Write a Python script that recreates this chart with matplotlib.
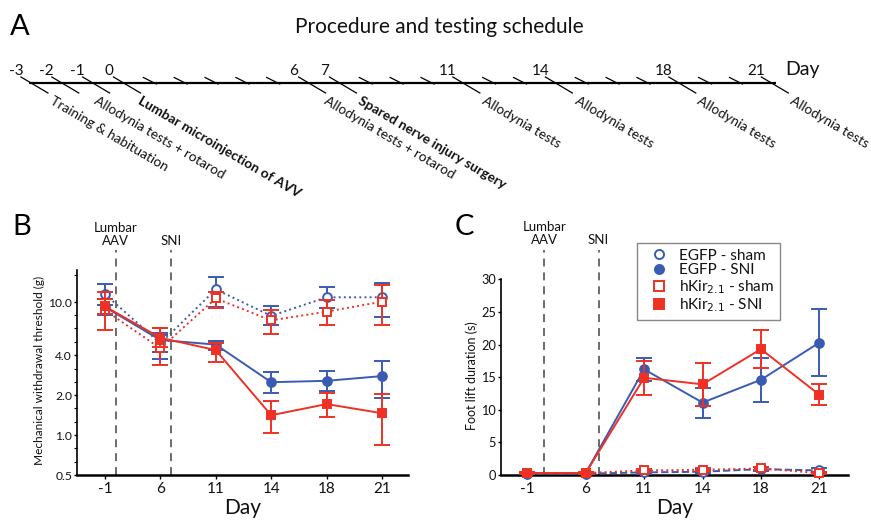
import matplotlib
matplotlib.use('Agg')
import matplotlib.pyplot as plt
import matplotlib.transforms as mtransforms
from matplotlib.lines import Line2D
import numpy as np

plt.rcParams['font.family'] = ['Lato', 'DejaVu Sans']

# ---------------- data ----------------
day_labels = ['-1', '6', '11', '14', '18', '21']

# Panel B: mechanical withdrawal threshold (g): mean, lower and upper error bounds
egfp_sham_thr = [11.5, 4.9, 12.5, 7.9, 10.9, 10.9]
egfp_sham_thr_lo = [9.6, 4.2, 9.2, 6.8, 9.0, 7.7]
egfp_sham_thr_hi = [13.8, 5.7, 15.5, 9.3, 13.1, 14.0]

egfp_sni_thr = [9.2, 5.2, 4.8, 2.5, 2.56, 2.78]
egfp_sni_thr_lo = [8.0, 3.75, 4.4, 2.06, 2.15, 1.91]
egfp_sni_thr_hi = [10.6, 5.9, 5.1, 2.97, 3.05, 3.62]

hkir_sham_thr = [8.7, 4.5, 10.7, 7.3, 8.5, 10.1]
hkir_sham_thr_lo = [6.2, 3.35, 9.1, 5.8, 6.8, 6.7]
hkir_sham_thr_hi = [12.0, 6.4, 12.0, 8.7, 10.4, 13.4]

hkir_sni_thr = [9.3, 5.4, 4.36, 1.41, 1.71, 1.46]
hkir_sni_thr_lo = [8.1, 4.6, 3.56, 1.03, 1.36, 0.84]
hkir_sni_thr_hi = [10.5, 6.45, 4.95, 1.8, 2.08, 2.04]

# Panel C: foot lift duration (s): mean and error
egfp_sham_lift = [0.2, 0.2, 0.4, 0.5, 0.9, 0.7]
egfp_sham_lift_err = [0.1, 0.1, 0.2, 0.2, 0.3, 0.3]
egfp_sni_lift = [0.3, 0.3, 16.2, 11.1, 14.6, 20.3]
egfp_sni_lift_err = [0.1, 0.1, 1.8, 2.3, 3.4, 5.2]
hkir_sham_lift = [0.3, 0.3, 0.7, 0.8, 1.0, 0.3]
hkir_sham_lift_err = [0.1, 0.1, 0.2, 0.2, 0.3, 0.2]
hkir_sni_lift = [0.3, 0.3, 14.9, 13.9, 19.3, 12.3]
hkir_sni_lift_err = [0.1, 0.1, 2.6, 3.3, 2.9, 1.6]

legend_labels = ['EGFP - sham', 'EGFP - SNI', r'hKir$_{2.1}$ - sham', r'hKir$_{2.1}$ - SNI']

# Panel A: schedule
schedule_days = list(range(-3, 22))
labelled_days = [-3, -2, -1, 0, 6, 7, 11, 14, 18, 21]
event_days = [-3, -1, 0, 6, 7, 11, 14, 18, 21]
event_texts = ['Training & habituation', 'Allodynia tests + rotarod',
               'Lumbar microinjection of AVV', 'Allodynia tests + rotarod',
               'Spared nerve injury surgery', 'Allodynia tests', 'Allodynia tests',
               'Allodynia tests', 'Allodynia tests']
event_bold = [False, False, True, False, True, False, False, False, False]
event_dx_px = [23, 5, 19, 19, 23, 23, 24, 22, 23]

# Event markers (position on categorical axis)
b_event_pos = [0.19, 1.19]
c_event_pos = [0.29, 1.22]
event_names = ['Lumbar\nAAV', 'SNI']

BLUE = '#3a5bb3'
RED = '#ee3124'
GREY = '#444444'
TXT = '#111111'

W, H = 871, 521
fig = plt.figure(figsize=(W / 100, H / 100), dpi=100)

# ---------------- Panel A ----------------
PX0, PXD = 123.5, 30.85
axA = fig.add_axes([0, 0, 1, 1])
axA.set_xlim(-PX0 / PXD, (W - PX0) / PXD)
axA.set_ylim(H, 0)
axA.axis('off')


def dpx(p):
    return p / PXD


LINE_Y = 83
axA.plot([-3 - dpx(2), 21 + dpx(5)], [LINE_Y, LINE_Y], color='black', lw=1.6,
         solid_capstyle='butt')
for d in schedule_days:
    if d in labelled_days:
        axA.plot([d - dpx(10), d + dpx(17)], [LINE_Y - 6, LINE_Y + 10], color='black', lw=0.9)
        axA.text(d - dpx(15), 75, str(d), ha='center', va='baseline', fontsize=11, color=TXT)
    else:
        axA.plot([d - dpx(11), d + dpx(2)], [LINE_Y - 5.5, LINE_Y + 1], color='black', lw=0.9)
axA.text(21 + dpx(31.5), 75, 'Day', ha='center', va='baseline', fontsize=14, color=TXT)

for d, t, b, dx in zip(event_days, event_texts, event_bold, event_dx_px):
    axA.text(d + dpx(dx), LINE_Y + 12, t, rotation=-30.5, rotation_mode='anchor',
             ha='left', va='top', fontsize=9.9, color=TXT,
             fontweight='bold' if b else 'normal')

fig.text(439 / W, 1 - 33 / H, 'Procedure and testing schedule', ha='center',
         va='baseline', fontsize=15, color=TXT)
fig.text(10 / W, 1 - 35 / H, 'A', ha='left', va='baseline', fontsize=21)
fig.text(12 / W, 1 - 235 / H, 'B', ha='left', va='baseline', fontsize=21)
fig.text(455 / W, 1 - 235 / H, 'C', ha='left', va='baseline', fontsize=21)


def style_axes(ax):
    for s in ['top', 'right']:
        ax.spines[s].set_visible(False)
    ax.spines['left'].set_linewidth(1.2)
    ax.spines['bottom'].set_linewidth(1.8)
    ax.tick_params(axis='x', direction='out', length=3, width=1.0, labelsize=11, pad=2,
                   labelcolor=TXT)
    ax.tick_params(axis='y', direction='out', length=2.5, width=1.0, pad=1, labelcolor=TXT)
    ax.tick_params(axis='y', which='minor', direction='out', length=2, width=0.8)


def draw_events(ax, positions, top, label_y):
    trans = mtransforms.blended_transform_factory(ax.transData, ax.transAxes)
    for p, name in zip(positions, event_names):
        ax.plot([p, p], [0, top], transform=trans, color=GREY, lw=1.1,
                linestyle=(0, (5.2, 3.9)), clip_on=False, zorder=1)
        ax.text(p, label_y, name, transform=trans, ha='center', va='bottom',
                fontsize=9.5, linespacing=1.05, color=TXT)


x = np.arange(len(day_labels))

# ---------------- Panel B ----------------
axB = fig.add_axes([77 / W, (H - 475) / H, 331 / W, 205 / H])
style_axes(axB)
axB.set_yscale('log')
axB.set_ylim(0.5, 17.5)
axB.set_xlim(-0.505, 5.47)
axB.set_yticks([0.5, 1.0, 2.0, 4.0, 10.0])
axB.set_yticklabels(['0.5', '1.0', '2.0', '4.0', '10.0'], fontsize=8.7)
axB.set_yticks([0.63, 0.8, 1.26, 1.59, 2.52, 3.17, 5.04, 6.35, 8.0, 16.0], minor=True)
axB.yaxis.set_minor_formatter(matplotlib.ticker.NullFormatter())
axB.set_xticks(x)
axB.set_xticklabels(day_labels)

b_series = [
    (egfp_sham_thr, egfp_sham_thr_lo, egfp_sham_thr_hi, BLUE, 'o', 'white', ':'),
    (egfp_sni_thr, egfp_sni_thr_lo, egfp_sni_thr_hi, BLUE, 'o', BLUE, '-'),
    (hkir_sham_thr, hkir_sham_thr_lo, hkir_sham_thr_hi, RED, 's', 'white', ':'),
    (hkir_sni_thr, hkir_sni_thr_lo, hkir_sni_thr_hi, RED, 's', RED, '-'),
]
for i, (m, lo, hi, c, mk, fc, ls) in enumerate(b_series):
    m = np.array(m)
    yerr = [m - np.array(lo), np.array(hi) - m]
    axB.errorbar(x, m, yerr=yerr, color=c, ecolor=c, linestyle=ls, lw=1.4,
                 marker=mk, markersize=6.3, mfc=fc, mec=c, mew=1.4,
                 elinewidth=1.4, capsize=6, capthick=1.4, zorder=3 + i)

draw_events(axB, b_event_pos, (475 - 250) / 205, (475 - 247) / 205)
axB.set_xlabel('Day', fontsize=15, color=TXT)
axB.xaxis.label.set_verticalalignment('baseline')
axB.xaxis.set_label_coords(0.5, -(514 - 475) / 205)
axB.set_ylabel('Mechanical withdrawal threshold (g)', fontsize=8.6, color=TXT)
axB.yaxis.label.set_verticalalignment('center')
axB.yaxis.set_label_coords((39 - 77) / 331, 0.51)

# ---------------- Panel C ----------------
axC = fig.add_axes([501 / W, (H - 475) / H, 347 / W, 195.7 / H])
style_axes(axC)
axC.set_ylim(0, 30)
axC.set_xlim(-0.45, 5.49)
axC.set_yticks([0, 5, 10, 15, 20, 25, 30])
axC.tick_params(axis='y', labelsize=9.2)
axC.set_xticks(x)
axC.set_xticklabels(day_labels)

c_series = [
    (egfp_sham_lift, egfp_sham_lift_err, BLUE, 'o', 'white', '--'),
    (egfp_sni_lift, egfp_sni_lift_err, BLUE, 'o', BLUE, '-'),
    (hkir_sham_lift, hkir_sham_lift_err, RED, 's', 'white', ':'),
    (hkir_sni_lift, hkir_sni_lift_err, RED, 's', RED, '-'),
]
handles = []
for i, (m, e, c, mk, fc, ls) in enumerate(c_series):
    axC.errorbar(x, m, yerr=e, color=c, ecolor=c, linestyle=ls, lw=1.4,
                 marker=mk, markersize=6.3, mfc=fc, mec=c, mew=1.4,
                 elinewidth=1.4, capsize=6, capthick=1.4, zorder=3 + i, clip_on=False)
    handles.append(Line2D([], [], linestyle='none', marker=mk, markersize=6.5,
                          mfc=fc, mec=c, mew=1.4))

draw_events(axC, c_event_pos, (475 - 250) / 195.7, (475 - 246) / 195.7)
axC.set_xlabel('Day', fontsize=15, color=TXT)
axC.xaxis.label.set_verticalalignment('baseline')
axC.xaxis.set_label_coords(0.5, -(514 - 475) / 195.7)
axC.set_ylabel('Foot lift duration (s)', fontsize=9, color=TXT)
axC.yaxis.label.set_verticalalignment('center')
axC.yaxis.set_label_coords((471.7 - 501) / 347, 0.506)

leg = axC.legend(handles, legend_labels, loc='upper left',
                 bbox_to_anchor=((636.7 - 501) / 347, (475 - 243.3) / 195.7),
                 borderaxespad=0, fontsize=11, frameon=True, fancybox=False,
                 handlelength=2.2, handletextpad=0.25, labelspacing=0.05,
                 borderpad=0.35, framealpha=1)
leg.get_frame().set_edgecolor('#888888')
leg.get_frame().set_linewidth(1.0)
for t in leg.get_texts():
    t.set_color(TXT)

fig.savefig('out.png', dpi=100)
